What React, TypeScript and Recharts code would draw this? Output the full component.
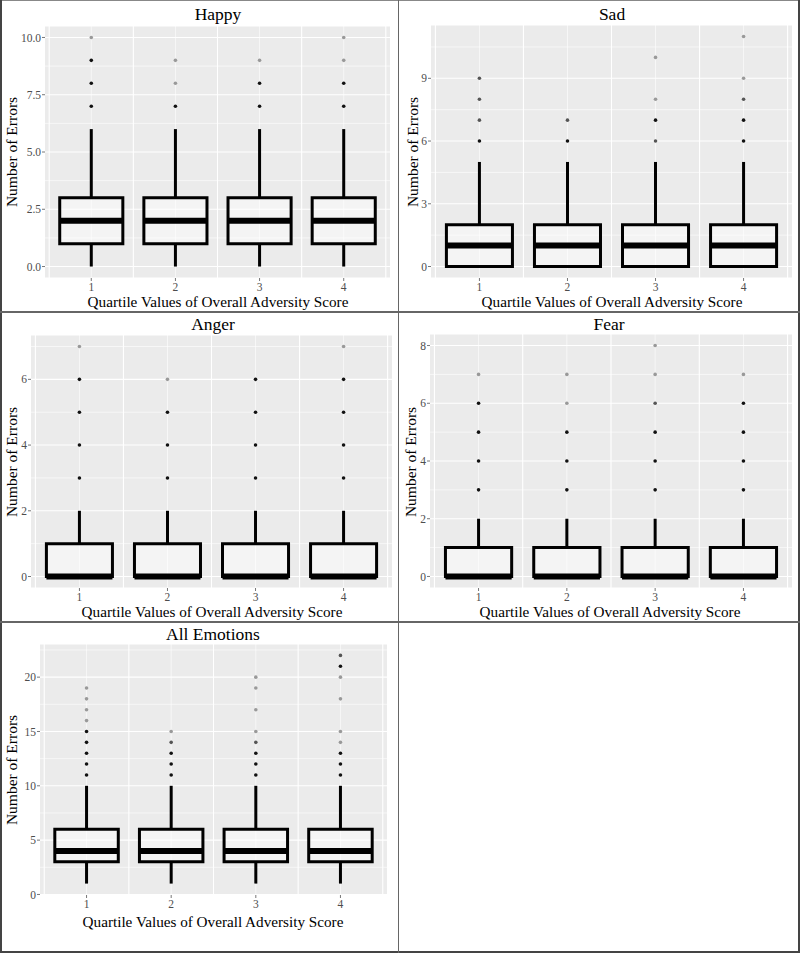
import React from 'react';
import { ComposedChart, XAxis, YAxis, CartesianGrid, ReferenceArea, ReferenceLine, Scatter } from 'recharts';

const FONT = '"Liberation Serif", "Times New Roman", serif';

const QUARTILES = [1, 2, 3, 4];
const X_DOMAIN: [number, number] = [0.45, 4.55];
const X_GRID_MID = [0.5, 1.5, 2.5, 3.5, 4.5];
const BOX_HALF = 0.375;

const X_TITLE = 'Quartile Values of Overall Adversity Score';
const Y_TITLE = 'Number of Errors';

// [lower whisker, Q1, median, Q3, upper whisker] for each quartile
const happyBoxes = [[0, 1, 2, 3, 6], [0, 1, 2, 3, 6], [0, 1, 2, 3, 6], [0, 1, 2, 3, 6]];
const sadBoxes = [[0, 0, 1, 2, 5], [0, 0, 1, 2, 5], [0, 0, 1, 2, 5], [0, 0, 1, 2, 5]];
const angerBoxes = [[0, 0, 0, 1, 2], [0, 0, 0, 1, 2], [0, 0, 0, 1, 2], [0, 0, 0, 1, 2]];
const fearBoxes = [[0, 0, 0, 1, 2], [0, 0, 0, 1, 2], [0, 0, 0, 1, 2], [0, 0, 0, 1, 2]];
const allBoxes = [[1, 3, 4, 6, 10], [1, 3, 4, 6, 10], [1, 3, 4, 6, 10], [1, 3, 4, 6, 10]];

// outliers per quartile: [value, shade]  k = dark, m = mid, l = light (overplotting)
type Out = [number, string];
const happyOutliers: Out[][] = [
  [[7, 'k'], [8, 'k'], [9, 'k'], [10, 'l']],
  [[7, 'k'], [8, 'l'], [9, 'l']],
  [[7, 'k'], [8, 'k'], [9, 'l']],
  [[7, 'k'], [8, 'k'], [9, 'l'], [10, 'l']],
];
const sadOutliers: Out[][] = [
  [[6, 'k'], [7, 'm'], [8, 'm'], [9, 'm']],
  [[6, 'k'], [7, 'm']],
  [[6, 'm'], [7, 'k'], [8, 'l'], [10, 'l']],
  [[6, 'k'], [7, 'k'], [8, 'm'], [9, 'l'], [11, 'l']],
];
const angerOutliers: Out[][] = [
  [[3, 'k'], [4, 'k'], [5, 'k'], [6, 'k'], [7, 'l']],
  [[3, 'k'], [4, 'k'], [5, 'k'], [6, 'l']],
  [[3, 'k'], [4, 'k'], [5, 'k'], [6, 'k']],
  [[3, 'k'], [4, 'k'], [5, 'k'], [6, 'k'], [7, 'l']],
];
const fearOutliers: Out[][] = [
  [[3, 'k'], [4, 'k'], [5, 'k'], [6, 'k'], [7, 'l']],
  [[3, 'k'], [4, 'k'], [5, 'k'], [6, 'l'], [7, 'l']],
  [[3, 'k'], [4, 'k'], [5, 'k'], [6, 'm'], [7, 'l'], [8, 'l']],
  [[3, 'k'], [4, 'k'], [5, 'k'], [6, 'k'], [7, 'l']],
];
const allOutliers: Out[][] = [
  [[11, 'k'], [12, 'k'], [13, 'k'], [14, 'k'], [15, 'k'], [16, 'l'], [17, 'l'], [18, 'l'], [19, 'l']],
  [[11, 'k'], [12, 'k'], [13, 'k'], [14, 'm'], [15, 'l']],
  [[11, 'k'], [12, 'k'], [13, 'k'], [14, 'm'], [15, 'l'], [17, 'l'], [19, 'l'], [20, 'l']],
  [[11, 'k'], [12, 'k'], [13, 'k'], [14, 'l'], [15, 'l'], [18, 'l'], [20, 'l'], [21, 'k'], [22, 'm']],
];

const SHADE: Record<string, string> = { k: '#111111', m: '#555555', l: '#999999' };
const TICK = { fill: '#4D4D4D', fontSize: 11.5, fontFamily: FONT };

const panels = [
  {
    title: 'Happy', ox: 0, oy: 0, W: 398, H: 310, l: 45, r: 390, t: 26, b: 278,
    yDomain: [-0.5, 10.5], yTicks: [0, 2.5, 5, 7.5, 10], yMinor: [1.25, 3.75, 6.25, 8.75],
    fmt: (v: number) => v.toFixed(1), boxes: happyBoxes, outliers: happyOutliers,
    titlePos: [218, 15], yLab: [12, 152], xLab: [218, 302],
  },
  {
    title: 'Sad', ox: 399, oy: 0, W: 400, H: 310, l: 431, r: 792, t: 25, b: 278,
    yDomain: [-0.55, 11.55], yTicks: [0, 3, 6, 9], yMinor: [1.5, 4.5, 7.5, 10.5],
    fmt: (v: number) => String(v), boxes: sadBoxes, outliers: sadOutliers,
    titlePos: [612, 15], yLab: [413, 152], xLab: [612, 302],
  },
  {
    title: 'Anger', ox: 0, oy: 313, W: 398, H: 308, l: 31, r: 392, t: 335, b: 588,
    yDomain: [-0.35, 7.35], yTicks: [0, 2, 4, 6], yMinor: [1, 3, 5, 7],
    fmt: (v: number) => String(v), boxes: angerBoxes, outliers: angerOutliers,
    titlePos: [213, 325], yLab: [12, 462], xLab: [212, 612],
  },
  {
    title: 'Fear', ox: 399, oy: 313, W: 400, H: 308, l: 430, r: 792, t: 334, b: 588,
    yDomain: [-0.4, 8.4], yTicks: [0, 2, 4, 6, 8], yMinor: [1, 3, 5, 7],
    fmt: (v: number) => String(v), boxes: fearBoxes, outliers: fearOutliers,
    titlePos: [609, 325], yLab: [411, 462], xLab: [610, 612],
  },
  {
    title: 'All Emotions', ox: 0, oy: 623, W: 398, H: 328, l: 40, r: 387, t: 644, b: 895,
    yDomain: [-0.05, 23.05], yTicks: [0, 5, 10, 15, 20], yMinor: [2.5, 7.5, 12.5, 17.5, 22.5],
    fmt: (v: number) => String(v), boxes: allBoxes, outliers: allOutliers,
    titlePos: [213, 635], yLab: [12, 770], xLab: [213, 922],
  },
];

function Text({ x, y, size, rotate, children }: any) {
  return (
    <div
      style={{
        position: 'absolute', left: x, top: y, fontSize: size, lineHeight: 1, whiteSpace: 'nowrap',
        color: '#000', transform: `translate(-50%, -50%)${rotate ? ' rotate(-90deg)' : ''}`,
      }}
    >
      {children}
    </div>
  );
}

function Panel({ p }: any) {
  const points = p.outliers.flatMap((list: Out[], i: number) =>
    list.map(([v, s]) => ({ x: QUARTILES[i], y: v, shade: s })),
  );
  return (
    <>
      <div style={{ position: 'absolute', left: p.ox, top: p.oy }}>
        <ComposedChart
          width={p.W}
          height={p.H}
          margin={{ top: p.t - p.oy, right: p.ox + p.W - p.r, bottom: 0, left: 0 }}
          style={{ fontFamily: FONT }}
        >
          <CartesianGrid fill="#EBEBEB" stroke="#FFFFFF" strokeWidth={1.1} vertical={false} />
          <XAxis
            type="number" dataKey="x" domain={X_DOMAIN} ticks={QUARTILES} allowDataOverflow interval={0}
            height={p.oy + p.H - p.b} axisLine={false} tickLine={{ stroke: '#777' }} tickSize={3} tickMargin={2} tick={TICK}
          />
          <YAxis
            type="number" dataKey="y" domain={p.yDomain} ticks={p.yTicks} allowDataOverflow interval={0}
            width={p.l - p.ox} axisLine={false} tickLine={{ stroke: '#777' }} tickSize={3} tickMargin={1}
            tick={TICK} tickFormatter={p.fmt}
          />
          {p.yMinor.map((v: number) => (
            <ReferenceLine key={'hy' + v} y={v} stroke="#FFFFFF" strokeWidth={0.6} zIndex={-90} />
          ))}
          {QUARTILES.map((q) => (
            <ReferenceLine key={'vq' + q} x={q} stroke="#FFFFFF" strokeWidth={0.6} zIndex={-90} />
          ))}
          {X_GRID_MID.map((v) => (
            <ReferenceLine key={'vm' + v} x={v} stroke="#FFFFFF" strokeWidth={1.1} zIndex={-90} />
          ))}
          {p.boxes.map((bx: number[], i: number) => {
            const q = QUARTILES[i];
            const [lo, q1, , q3, hi] = bx;
            return (
              <React.Fragment key={'w' + q}>
                <ReferenceLine segment={[{ x: q, y: q3 }, { x: q, y: hi }]} stroke="#000" strokeWidth={3} zIndex={90} />
                {lo < q1 && (
                  <ReferenceLine segment={[{ x: q, y: lo }, { x: q, y: q1 }]} stroke="#000" strokeWidth={3} zIndex={90} />
                )}
              </React.Fragment>
            );
          })}
          {p.boxes.map((bx: number[], i: number) => {
            const q = QUARTILES[i];
            return (
              <ReferenceArea
                key={'b' + q} x1={q - BOX_HALF} x2={q + BOX_HALF} y1={bx[1]} y2={bx[3]}
                fill="#FFFFFF" fillOpacity={0.45} stroke="#000" strokeWidth={3} zIndex={100}
              />
            );
          })}
          {p.boxes.map((bx: number[], i: number) => {
            const q = QUARTILES[i];
            return (
              <ReferenceLine
                key={'m' + q} segment={[{ x: q - BOX_HALF, y: bx[2] }, { x: q + BOX_HALF, y: bx[2] }]}
                stroke="#000" strokeWidth={6} zIndex={150}
              />
            );
          })}
          <Scatter
            data={points} dataKey="y" isAnimationActive={false}
            shape={(s: any) => <circle cx={s.cx} cy={s.cy} r={1.8} fill={SHADE[s.payload.shade]} />}
          />
        </ComposedChart>
      </div>
      <Text x={p.titlePos[0]} y={p.titlePos[1]} size={17.5}>{p.title}</Text>
      <Text x={p.yLab[0]} y={p.yLab[1]} size={15.5} rotate>{Y_TITLE}</Text>
      <Text x={p.xLab[0]} y={p.xLab[1]} size={15.2}>{X_TITLE}</Text>
    </>
  );
}

export default function App() {
  const line = (s: any) => <div style={{ position: 'absolute', background: '#555', ...s }} />;
  return (
    <div style={{ position: 'absolute', left: 0, top: 0, width: 800, height: 953, background: '#fff', fontFamily: FONT, overflow: 'hidden' }}>
      {panels.map((p) => <Panel key={p.title} p={p} />)}
      {line({ left: 0, top: 0, width: 800, height: 1, background: '#888' })}
      {line({ left: 0, top: 0, width: 2, height: 953, background: '#444' })}
      {line({ left: 798, top: 0, width: 2, height: 953, background: '#444' })}
      {line({ left: 0, top: 951, width: 800, height: 2, background: '#444' })}
      {line({ left: 398, top: 0, width: 1, height: 953, background: '#666' })}
      {line({ left: 0, top: 311, width: 800, height: 1.5, background: '#666' })}
      {line({ left: 0, top: 621, width: 800, height: 1.5, background: '#666' })}
    </div>
  );
}
